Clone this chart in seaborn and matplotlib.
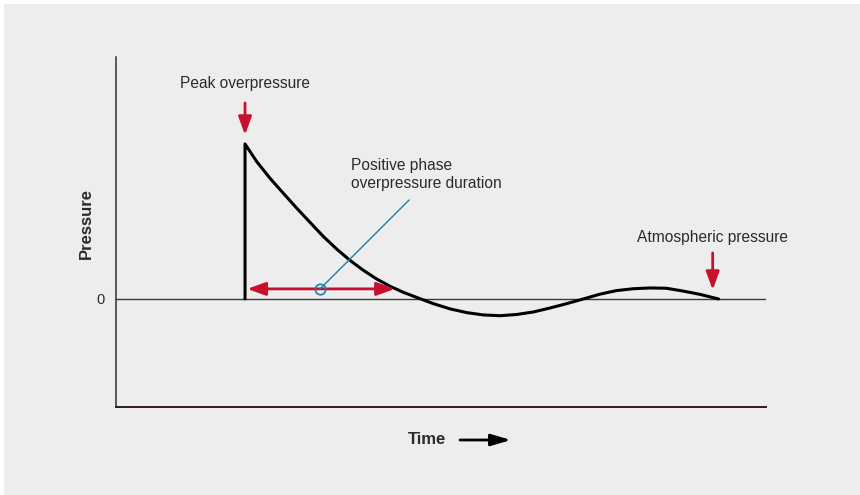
import numpy as np
import pandas as pd
import matplotlib
matplotlib.use("Agg")
import matplotlib.pyplot as plt
from matplotlib.patches import Rectangle
import seaborn as sns

# blast wave: time (arbitrary units) and pressure relative to peak overpressure
time_pts = [1.985, 1.985, 2.165, 2.369, 2.574, 2.78, 2.985, 3.19, 3.395, 3.60,
            3.805, 4.01, 4.215, 4.42, 4.626, 4.88, 5.14, 5.395, 5.65,
            5.91, 6.165, 6.42, 6.68, 6.935, 7.19, 7.445, 7.70, 7.96, 8.215,
            8.47, 8.725, 8.98, 9.27]
pressure_pts = [0.0, 1.0, 0.886, 0.779, 0.682, 0.586, 0.494, 0.403, 0.322, 0.249,
                0.185, 0.129, 0.082, 0.043, 0.010, -0.030, -0.064, -0.088, -0.103,
                -0.108, -0.100, -0.084, -0.058, -0.030, 0.0, 0.031, 0.054, 0.066, 0.071,
                0.069, 0.051, 0.030, 0.0]

peak_time = 1.985
peak_label_y = 1.39
duration_start, duration_end, duration_y = 2.02, 4.29, 0.065
pointer_start = (3.14, 0.065)
pointer_end = (4.51, 0.639)
atmos_time = 9.18

BG = "#ecedec"
RED = "#c8102e"
BLUE = "#1f7ea6"
TXT = "#2b2b2b"

sns.set_theme(style="white")
plt.rcParams["font.family"] = ["Liberation Sans", "DejaVu Sans"]

df = pd.DataFrame({"Time": time_pts, "Pressure": pressure_pts})

fig = plt.figure(figsize=(8.6, 4.95), dpi=100, facecolor="white")
fig.patches.append(Rectangle((4 / 860, 0), 1, 491 / 495, transform=fig.transFigure,
                             facecolor=BG, edgecolor="none", zorder=-10))
ax = fig.add_axes([116 / 860, 88 / 495, 650 / 860, 350 / 495])
ax.set_facecolor("none")

sns.lineplot(data=df, x="Time", y="Pressure", sort=False, estimator=None,
             color="black", linewidth=2.2, ax=ax, zorder=4)

ax.set_xlim(0, 10)
ax.set_ylim(-0.697, 1.561)
ax.axhline(0, color="#3a3a3a", linewidth=1.0, zorder=2)

for s in ["top", "right"]:
    ax.spines[s].set_visible(False)
ax.spines["left"].set_color("#2f2f2f")
ax.spines["left"].set_linewidth(1.1)
ax.spines["bottom"].set_color("#2e1a20")
ax.spines["bottom"].set_linewidth(1.4)

ax.set_xticks([])
ax.set_yticks([0])
ax.set_yticklabels(["0"])
ax.tick_params(axis="y", length=0, pad=8, labelsize=10.5, labelcolor=TXT)
ax.set_xlabel("")
ax.set_ylabel("Pressure", fontsize=12, fontweight="bold", color=TXT)
ax.yaxis.set_label_coords(-0.034, 0.525)

arrow_kw = dict(mutation_scale=10, color=RED, lw=2.0, shrinkA=0, shrinkB=0)

# peak overpressure
ax.text(peak_time, peak_label_y, "Peak overpressure", ha="center", va="center",
        fontsize=11.2, color=TXT)
ax.annotate("", xy=(peak_time, 1.058), xytext=(peak_time, 1.265),
            arrowprops=dict(arrowstyle="-|>,head_length=1.1,head_width=0.4", **arrow_kw))

# positive phase duration
ax.annotate("", xy=(duration_start, duration_y), xytext=(duration_end, duration_y),
            arrowprops=dict(arrowstyle="<|-|>,head_length=1.1,head_width=0.4", **arrow_kw),
            zorder=5)
ax.plot([pointer_start[0], pointer_end[0]], [pointer_start[1], pointer_end[1]],
        color=BLUE, linewidth=1.0, zorder=6)
ax.plot([pointer_start[0]], [pointer_start[1]], marker="o", markersize=7.5,
        markerfacecolor="none", markeredgecolor=BLUE, markeredgewidth=1.2, zorder=7)
ax.text(3.62, 0.803, "Positive phase\noverpressure duration", ha="left", va="center",
        fontsize=11.2, color=TXT, linespacing=1.3)

# atmospheric pressure
ax.text(atmos_time, 0.394, "Atmospheric pressure", ha="center", va="center",
        fontsize=11.2, color=TXT)
ax.annotate("", xy=(atmos_time, 0.058), xytext=(atmos_time, 0.297),
            arrowprops=dict(arrowstyle="-|>,head_length=1.1,head_width=0.4", **arrow_kw))

# time label with arrow
fig.text(427 / 860, 55 / 495, "Time", ha="center", va="center",
         fontsize=12, fontweight="bold", color=TXT)
ax.annotate("", xy=(511 / 860, 55 / 495), xytext=(460 / 860, 55 / 495),
            xycoords="figure fraction", textcoords="figure fraction",
            arrowprops=dict(arrowstyle="-|>,head_length=1.2,head_width=0.35",
                            mutation_scale=10, color="black", lw=2.0,
                            shrinkA=0, shrinkB=0))

fig.savefig("out.png", dpi=100, facecolor=fig.get_facecolor())
